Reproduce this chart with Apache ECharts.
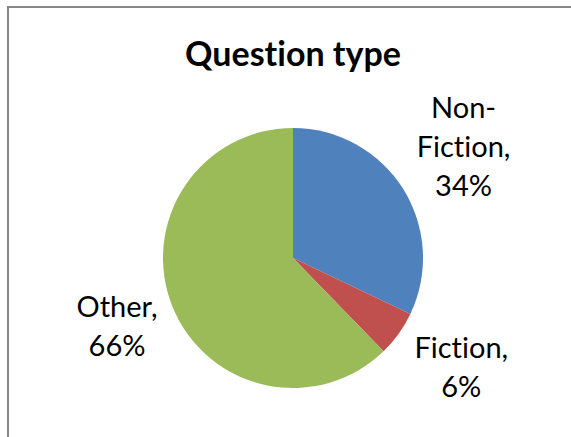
<!DOCTYPE html>
<html>
<head>
<meta charset="utf-8">
<script src="https://cdn.jsdelivr.net/npm/echarts@6/dist/echarts.min.js"></script>
<style>
  html, body { margin: 0; padding: 0; background: #ffffff; }
  #chart { width: 571px; height: 437px; font-variant-ligatures: none; }
  #chart text { font-variant-ligatures: none; font-feature-settings: "liga" 0, "clig" 0; }
</style>
</head>
<body>
<div id="chart"></div>
<script>
// ---- data ----
const chartTitle = 'Question type';
const categories = ['Non-Fiction', 'Fiction', 'Other'];
const values = [34, 6, 66];
const colors = ['#4F81BD', '#C0504D', '#9BBB59'];

// ---- label placement (relative to each slice) ----
const labelLineLength = [80, 55, 48];
const labelLineLength2 = [-72, -47, -54];

const FONT = 'Lato, "Open Sans", "Noto Sans", sans-serif';

const pieData = categories.map(function (name, i) {
  return {
    name: name,
    value: values[i],
    itemStyle: { color: colors[i] },
    labelLine: { show: false, length: labelLineLength[i], length2: labelLineLength2[i] }
  };
});

const chart = echarts.init(document.getElementById('chart'), null, { renderer: 'svg' });
chart.setOption({
  backgroundColor: '#ffffff',
  animation: false,
  title: {
    text: chartTitle,
    left: 288,
    top: 30,
    textAlign: 'center',
    textStyle: { fontFamily: FONT, fontWeight: 'bold', fontSize: 34, color: '#000000' }
  },
  graphic: [{
    type: 'rect',
    silent: true,
    shape: { x: 8, y: 7, width: 700, height: 600 },
    style: { fill: 'none', stroke: '#878787', lineWidth: 2 }
  }],
  series: [{
    type: 'pie',
    center: [293, 258],
    radius: [0, 130],
    startAngle: 90,
    clockwise: true,
    avoidLabelOverlap: false,
    data: pieData,
    itemStyle: { borderWidth: 0 },
    label: {
      show: true,
      position: 'outside',
      width: 120,
      overflow: 'none',
      formatter: function (p) {
        const nm = p.name.replace('-', '-\n');
        const lines = (nm + ',').split('\n');
        lines.push(p.value + '%');
        return lines.map(function (s) { return '{c|' + s + '}'; }).join('\n');
      },
      rich: {
        c: { align: 'center', fontFamily: FONT, fontSize: 29, lineHeight: 39, color: '#000000' }
      }
    },
    labelLine: { show: false },
    emphasis: { disabled: true }
  }]
});
</script>
</body>
</html>
